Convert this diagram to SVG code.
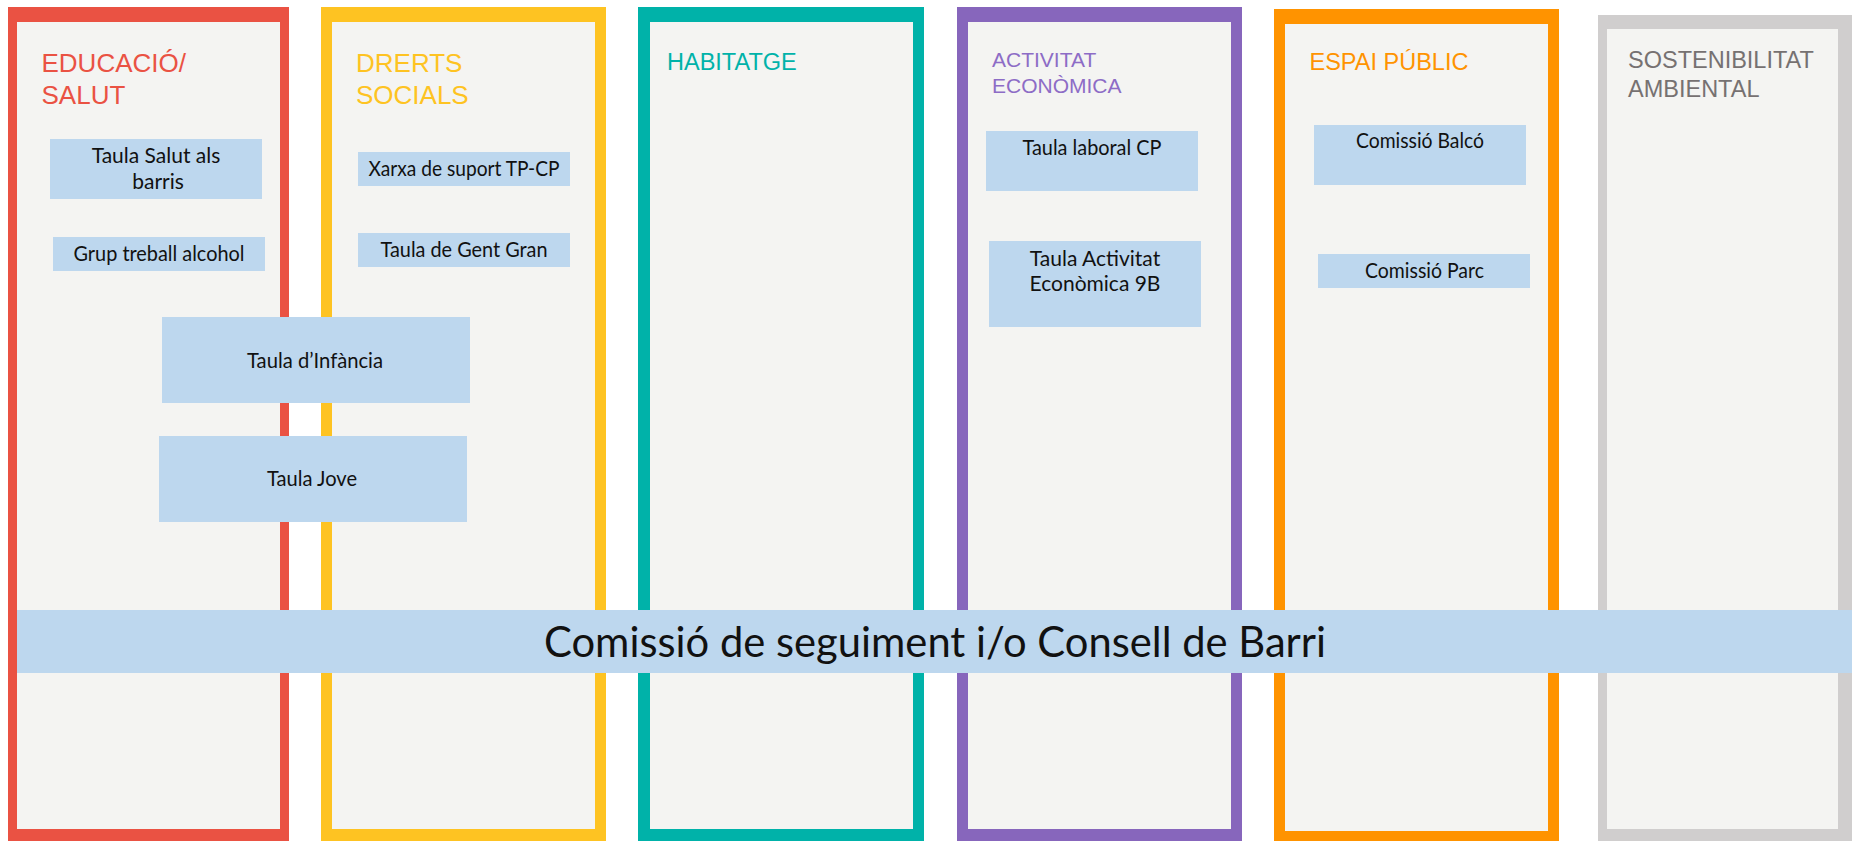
<svg xmlns="http://www.w3.org/2000/svg" width="1852" height="841" viewBox="0 0 1852 841">
<style>
.inner{fill:#F4F4F2}
.box{fill:#BDD7EE}
.lbl{font-family:Lato,"Liberation Sans",sans-serif;font-size:21px;fill:#111;text-anchor:middle}
.big{font-size:42px}
.ttl{font-family:"Liberation Sans",Arial,sans-serif}
</style>
<rect x="0" y="0" width="1852" height="841" fill="#FFFFFF"/>
<g id="col-educacio">
<rect x="8" y="7" width="281" height="840" fill="#EA5243"/>
<rect class="inner" x="17" y="22" width="263" height="807"/>
<text class="ttl" x="41.5" y="72" font-size="26" fill="#EA5243">EDUCACIÓ/</text>
<text class="ttl" x="41.5" y="104" font-size="26" fill="#EA5243">SALUT</text>
</g>
<g id="col-drets">
<rect x="321" y="7" width="285" height="840" fill="#FEC322"/>
<rect class="inner" x="332" y="22" width="263" height="807"/>
<text class="ttl" x="356" y="72" font-size="26" fill="#FEC322">DRERTS</text>
<text class="ttl" x="356" y="104" font-size="26" fill="#FEC322">SOCIALS</text>
</g>
<g id="col-habitatge">
<rect x="638" y="7" width="286" height="840" fill="#00B2A9"/>
<rect class="inner" x="650" y="22" width="263" height="807"/>
<text class="ttl" x="667" y="70" font-size="23.5" fill="#00B2A9">HABITATGE</text>
</g>
<g id="col-activitat">
<rect x="957" y="7" width="285" height="840" fill="#8766BC"/>
<rect class="inner" x="968" y="22" width="263" height="807"/>
<text class="ttl" x="992" y="67" font-size="21" fill="#8D6CC6">ACTIVITAT</text>
<text class="ttl" x="992" y="93" font-size="21" fill="#8D6CC6">ECONÒMICA</text>
</g>
<g id="col-espai">
<rect x="1274" y="9" width="285" height="840" fill="#FF9300"/>
<rect class="inner" x="1285" y="24" width="263" height="807"/>
<text class="ttl" x="1309.5" y="70" font-size="23.5" fill="#FF9300">ESPAI PÚBLIC</text>
</g>
<g id="col-sostenibilitat">
<rect x="1598" y="15" width="254" height="840" fill="#D0CECE"/>
<rect class="inner" x="1607" y="29" width="231" height="800"/>
<text class="ttl" x="1628" y="68" font-size="23.5" fill="#767171">SOSTENIBILITAT</text>
<text class="ttl" x="1628" y="97" font-size="23.5" fill="#767171">AMBIENTAL</text>
</g>
<g id="n-salut">
<rect class="box" x="50" y="139" width="212" height="60"/>
<text class="lbl" x="156" y="163">Taula Salut als</text>
<text class="lbl" x="158" y="189">barris</text>
</g>
<g id="n-alcohol">
<rect class="box" x="53" y="237" width="212" height="34"/>
<text class="lbl" x="159" y="261" textLength="171" lengthAdjust="spacingAndGlyphs">Grup treball alcohol</text>
</g>
<g id="n-xarxa">
<rect class="box" x="358" y="152" width="212" height="34"/>
<text class="lbl" x="464" y="176" textLength="191" lengthAdjust="spacingAndGlyphs">Xarxa de suport TP-CP</text>
</g>
<g id="n-gentgran">
<rect class="box" x="358" y="233" width="212" height="34"/>
<text class="lbl" x="464" y="257" textLength="167" lengthAdjust="spacingAndGlyphs">Taula de Gent Gran</text>
</g>
<g id="n-infancia">
<rect class="box" x="162" y="317" width="308" height="86"/>
<text class="lbl" x="315" y="368" textLength="136" lengthAdjust="spacingAndGlyphs">Taula d’Infància</text>
</g>
<g id="n-jove">
<rect class="box" x="159" y="436" width="308" height="86"/>
<text class="lbl" x="312" y="486" textLength="90" lengthAdjust="spacingAndGlyphs">Taula Jove</text>
</g>
<g id="n-laboral">
<rect class="box" x="986" y="131" width="212" height="60"/>
<text class="lbl" x="1092" y="155" textLength="139" lengthAdjust="spacingAndGlyphs">Taula laboral CP</text>
</g>
<g id="n-activitat9b">
<rect class="box" x="989" y="241" width="212" height="86"/>
<text class="lbl" x="1095" y="266">Taula Activitat</text>
<text class="lbl" x="1095" y="291">Econòmica 9B</text>
</g>
<g id="n-balco">
<rect class="box" x="1314" y="125" width="212" height="60"/>
<text class="lbl" x="1420" y="148" textLength="128" lengthAdjust="spacingAndGlyphs">Comissió Balcó</text>
</g>
<g id="n-parc">
<rect class="box" x="1318" y="254" width="212" height="34"/>
<text class="lbl" x="1424.5" y="278" textLength="119" lengthAdjust="spacingAndGlyphs">Comissió Parc</text>
</g>
<g id="n-comissio">
<rect class="box" x="17" y="610" width="1835" height="63"/>
<text class="lbl big" x="935" y="657" textLength="782" lengthAdjust="spacingAndGlyphs">Comissió de seguiment i/o Consell de Barri</text>
</g>
<g id="connectors"></g>
</svg>
